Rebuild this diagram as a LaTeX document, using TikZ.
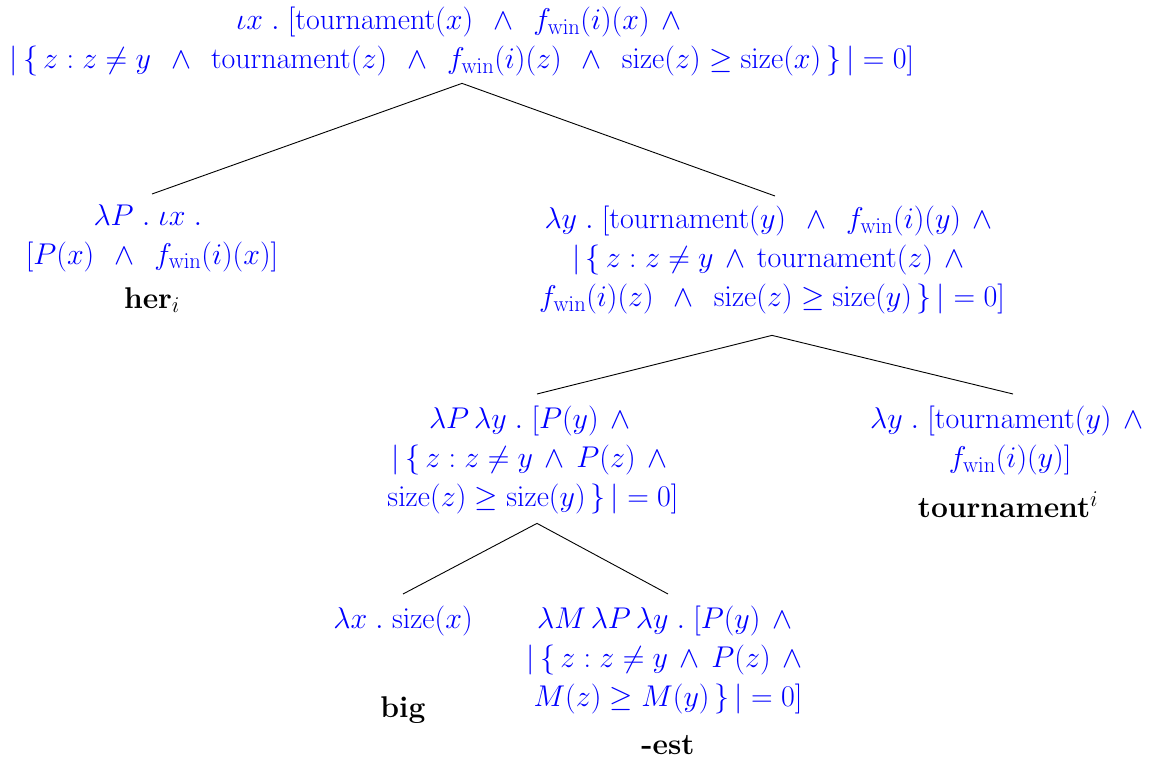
\RequirePackage{fix-cm}
\documentclass[tikz,border=0pt]{standalone}
\usepackage{amsmath}
\DeclareMathSizes{30}{30}{22.5}{16}
\newcommand{\tw}{\;\,\wedge\;\,}
\newcommand{\nw}{\,\wedge\,}
\newcommand{\ew}{\,\wedge{}}
\newcommand{\rmf}[1]{\mathrm{#1}}
\newcommand{\fw}{f_{\mathrm{win}}}
\newcommand{\dt}{\;.\;}
\begin{document}
\begin{tikzpicture}[x=1pt,y=-1pt,
  sem/.style={text=blue, align=center, font=\fontsize{30}{39}\selectfont, inner sep=4pt},
  word/.style={font=\fontsize{30}{39}\selectfont\bfseries, inner sep=2pt},
  branch/.style={black, line width=0.9pt}]
\useasboundingbox (0,0) rectangle (1165,762);
\node[sem, anchor=north] (root) at (462,3) {$\iota x\dt[\rmf{tournament}(x) \tw \fw(i)(x) \ew$\\
$|\,\{\,z : z \neq y \tw \rmf{tournament}(z) \tw \fw(i)(z) \tw \rmf{size}(z) \geq \rmf{size}(x)\,\}\,| = 0]$};
\node[sem, anchor=north] (her) at (152,200) {$\lambda P\dt\iota x\dt$\\ $[P(x) \tw \fw(i)(x)]$};
\node[word] (herw) at (152,300) {her$_i$};
\node[sem, anchor=north] (vp) at (772,202) {$\lambda y\dt[\rmf{tournament}(y) \tw \fw(i)(y) \ew$\\
$|\,\{\,z : z \neq y \nw \rmf{tournament}(z) \ew$\\
$\fw(i)(z) \tw \rmf{size}(z) \geq \rmf{size}(y)\,\}\,| = 0]$};
\node[sem, anchor=north] (ap) at (533,402) {$\lambda P\,\lambda y\dt[P(y) \ew$\\
$|\,\{\,z : z \neq y \nw P(z) \ew$\\
$\rmf{size}(z) \geq \rmf{size}(y)\,\}\,| = 0]$};
\node[sem, anchor=north] (tn) at (1010,402) {$\lambda y\dt[\rmf{tournament}(y) \ew$\\ $\fw(i)(y)]$};
\node[word] (tnw) at (1008,505) {tournament$^i$};
\node[sem, anchor=north] (big) at (403,602) {$\lambda x\dt\rmf{size}(x)$};
\node[word] (bigw) at (403,710) {big};
\node[sem, anchor=north] (est) at (668,602) {$\lambda M\,\lambda P\,\lambda y\dt[P(y) \ew$\\
$|\,\{\,z : z \neq y \nw P(z) \ew$\\
$M(z) \geq M(y)\,\}\,| = 0]$};
\node[word] (estw) at (668,745) {-est};
\draw[branch] ([yshift=-3pt]root.south) -- ([yshift=6pt]her.north);
\draw[branch] ([yshift=-3pt]root.south) -- ([xshift=3pt,yshift=6pt]vp.north);
\draw[branch] ([yshift=-17pt]vp.south) -- ([xshift=4pt,yshift=8pt]ap.north);
\draw[branch] ([yshift=-17pt]vp.south) -- ([xshift=3pt,yshift=8pt]tn.north);
\draw[branch] ([xshift=4pt,yshift=-5pt]ap.south) -- ([yshift=8pt]big.north);
\draw[branch] ([xshift=4pt,yshift=-5pt]ap.south) -- ([yshift=8pt]est.north);
\end{tikzpicture}
\end{document}
